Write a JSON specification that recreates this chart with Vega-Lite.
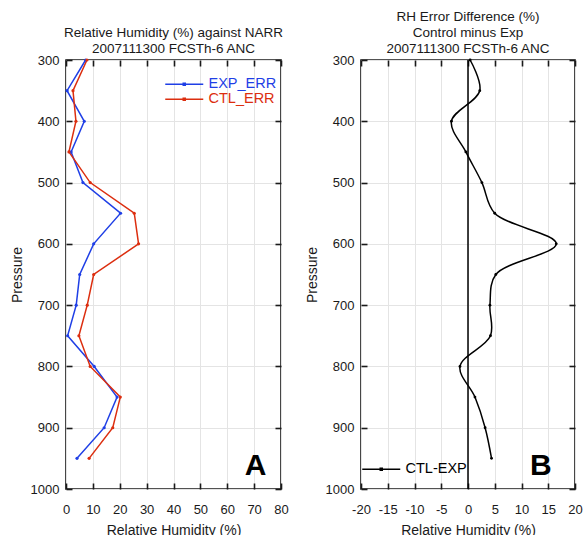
{
  "$schema": "https://vega.github.io/schema/vega-lite/v6.json",
  "background": "white",
  "padding": {"left": 9, "top": 8, "right": 5, "bottom": 0},
  "config": {
    "font": "Liberation Sans",
    "view": {"stroke": "#1a1a1a", "strokeWidth": 1.6},
    "axis": {
      "labelFont": "Liberation Sans", "labelFontSize": 13, "labelColor": "#1a1a1a", "labelOverlap": false, "labelFlush": false,
      "titleFont": "Liberation Sans", "titleFontSize": 14, "titleFontWeight": "normal", "titleColor": "#1a1a1a",
      "gridColor": "#e4e4e4", "gridWidth": 1,
      "tickColor": "#1a1a1a", "tickSize": -6, "tickWidth": 1.6, "domain": false
    },
    "title": {"font": "Liberation Sans", "fontSize": 13.5, "fontWeight": "normal", "color": "#1a1a1a", "lineHeight": 16, "anchor": "middle", "offset": -1},
    "legend": {"labelFont": "Liberation Sans"},
    "concat": {"spacing": 14}
  },
  "resolve": {"scale": {"color": "independent"}, "legend": {"color": "independent"}},
  "hconcat": [
    {
      "width": 215,
      "height": 429,
      "title": {"text": ["Relative Humidity (%) against NARR", "2007111300 FCSTh-6 ANC"]},
      "layer": [
        {
          "data": {"values": [
            {"series": "EXP_ERR", "p": 300, "rh": 7.3},
            {"series": "EXP_ERR", "p": 350, "rh": 0.4},
            {"series": "EXP_ERR", "p": 400, "rh": 6.8},
            {"series": "EXP_ERR", "p": 450, "rh": 1.9},
            {"series": "EXP_ERR", "p": 500, "rh": 6.3},
            {"series": "EXP_ERR", "p": 550, "rh": 20.3},
            {"series": "EXP_ERR", "p": 600, "rh": 10.3},
            {"series": "EXP_ERR", "p": 650, "rh": 5.1},
            {"series": "EXP_ERR", "p": 700, "rh": 3.8},
            {"series": "EXP_ERR", "p": 750, "rh": 0.6},
            {"series": "EXP_ERR", "p": 800, "rh": 10.5},
            {"series": "EXP_ERR", "p": 850, "rh": 19.0},
            {"series": "EXP_ERR", "p": 900, "rh": 14.2},
            {"series": "EXP_ERR", "p": 950, "rh": 4.1},
            {"series": "CTL_ERR", "p": 300, "rh": 7.8},
            {"series": "CTL_ERR", "p": 350, "rh": 2.6},
            {"series": "CTL_ERR", "p": 400, "rh": 3.7},
            {"series": "CTL_ERR", "p": 450, "rh": 1.1},
            {"series": "CTL_ERR", "p": 500, "rh": 9.0},
            {"series": "CTL_ERR", "p": 550, "rh": 25.4},
            {"series": "CTL_ERR", "p": 600, "rh": 27.0},
            {"series": "CTL_ERR", "p": 650, "rh": 10.3},
            {"series": "CTL_ERR", "p": 700, "rh": 7.9},
            {"series": "CTL_ERR", "p": 750, "rh": 4.8},
            {"series": "CTL_ERR", "p": 800, "rh": 9.0},
            {"series": "CTL_ERR", "p": 850, "rh": 20.2},
            {"series": "CTL_ERR", "p": 900, "rh": 17.4},
            {"series": "CTL_ERR", "p": 950, "rh": 8.6}
          ]},
          "mark": {"type": "line", "strokeWidth": 1.5, "point": {"filled": true, "size": 10}},
          "encoding": {
            "x": {"field": "rh", "type": "quantitative",
                  "scale": {"domain": [0, 80], "nice": false, "zero": false},
                  "axis": {"orient": "bottom", "values": [0, 10, 20, 30, 40, 50, 60, 70, 80], "title": "Relative Humidity (%)", "labelPadding": 20, "titlePadding": 7, "grid": true}},
            "y": {"field": "p", "type": "quantitative",
                  "scale": {"domain": [300, 1000], "reverse": true, "nice": false, "zero": false},
                  "axis": {"orient": "left", "values": [300, 400, 500, 600, 700, 800, 900, 1000], "labelExpr": "datum.value + ''", "title": "Pressure", "labelPadding": 13, "titlePadding": 6, "grid": true}},
            "color": {"field": "series", "type": "nominal",
                      "scale": {"domain": ["EXP_ERR", "CTL_ERR"], "range": ["#1f3fe6", "#dc2e0f"]},
                      "legend": {"orient": "none", "legendX": 111, "legendY": 17, "title": null,
                                 "symbolType": "M-9.5,0H9.5M-0.5,-0.5H0.5V0.5H-0.5Z", "symbolSize": 16, "symbolStrokeWidth": 1.5,
                                 "labelFontSize": 14.5, "labelOffset": 17, "rowPadding": 0,
                                 "encode": {"labels": {"update": {"fill": {"signal": "datum.label == 'EXP_ERR' ? '#1f3fe6' : '#dc2e0f'"}}}}}},
            "order": {"field": "p", "type": "quantitative"}
          }
        },
        {
          "data": {"values": [{"rh": 70.5, "p": 963, "lab": "A"}]},
          "mark": {"type": "text", "fontSize": 30, "fontWeight": "bold", "font": "Liberation Sans", "color": "black"},
          "encoding": {
            "x": {"field": "rh", "type": "quantitative", "axis": {"orient": "top", "labels": false, "title": null, "grid": false, "values": [0, 10, 20, 30, 40, 50, 60, 70, 80]}},
            "y": {"field": "p", "type": "quantitative", "axis": {"orient": "right", "labels": false, "title": null, "grid": false, "values": [300, 400, 500, 600, 700, 800, 900, 1000]}},
            "text": {"field": "lab"}
          }
        }
      ]
    },
    {
      "width": 214,
      "height": 429,
      "title": {"text": ["RH Error Difference (%)", "Control minus Exp", "2007111300 FCSTh-6 ANC"]},
      "layer": [
        {
          "data": {"values": [{"x0": 0}]},
          "mark": {"type": "rule", "color": "black", "strokeWidth": 1.5},
          "encoding": {"x": {"field": "x0", "type": "quantitative", "axis": null}}
        },
        {
          "data": {"values": [
            {"series": "CTL-EXP", "p": 300, "d": 0.4},
            {"series": "CTL-EXP", "p": 350, "d": 2.2},
            {"series": "CTL-EXP", "p": 400, "d": -3.1},
            {"series": "CTL-EXP", "p": 450, "d": -0.4},
            {"series": "CTL-EXP", "p": 500, "d": 2.6},
            {"series": "CTL-EXP", "p": 550, "d": 5.0},
            {"series": "CTL-EXP", "p": 600, "d": 16.5},
            {"series": "CTL-EXP", "p": 650, "d": 5.2},
            {"series": "CTL-EXP", "p": 700, "d": 4.1},
            {"series": "CTL-EXP", "p": 750, "d": 4.2},
            {"series": "CTL-EXP", "p": 800, "d": -1.5},
            {"series": "CTL-EXP", "p": 850, "d": 1.3},
            {"series": "CTL-EXP", "p": 900, "d": 3.2},
            {"series": "CTL-EXP", "p": 950, "d": 4.4}
          ]},
          "mark": {"type": "line", "strokeWidth": 1.5, "interpolate": "catmull-rom", "point": {"filled": true, "size": 8}},
          "encoding": {
            "x": {"field": "d", "type": "quantitative",
                  "scale": {"domain": [-20, 20], "nice": false, "zero": false},
                  "axis": {"orient": "bottom", "values": [-20, -15, -10, -5, 0, 5, 10, 15, 20], "labelExpr": "datum.value + ''", "title": "Relative Humidity (%)", "labelPadding": 20, "titlePadding": 7, "grid": true}},
            "y": {"field": "p", "type": "quantitative",
                  "scale": {"domain": [300, 1000], "reverse": true, "nice": false, "zero": false},
                  "axis": {"orient": "left", "values": [300, 400, 500, 600, 700, 800, 900, 1000], "labelExpr": "datum.value + ''", "title": "Pressure", "labelPadding": 13, "titlePadding": 6, "grid": true}},
            "color": {"field": "series", "type": "nominal",
                      "scale": {"domain": ["CTL-EXP"], "range": ["#000000"]},
                      "legend": {"orient": "none", "legendX": 13, "legendY": 402, "title": null,
                                 "symbolType": "M-9.5,0H9.5M-0.5,-0.5H0.5V0.5H-0.5Z", "symbolSize": 16, "symbolStrokeWidth": 1.5,
                                 "labelFontSize": 14.5, "labelOffset": 17, "labelColor": "#000000"}},
            "order": {"field": "p", "type": "quantitative"}
          }
        },
        {
          "data": {"values": [{"d": 13.6, "p": 963, "lab": "B"}]},
          "mark": {"type": "text", "fontSize": 30, "fontWeight": "bold", "font": "Liberation Sans", "color": "black"},
          "encoding": {
            "x": {"field": "d", "type": "quantitative", "axis": {"orient": "top", "labels": false, "title": null, "grid": false, "values": [-20, -15, -10, -5, 0, 5, 10, 15, 20]}},
            "y": {"field": "p", "type": "quantitative", "axis": {"orient": "right", "labels": false, "title": null, "grid": false, "values": [300, 400, 500, 600, 700, 800, 900, 1000]}},
            "text": {"field": "lab"}
          }
        }
      ]
    }
  ]
}
